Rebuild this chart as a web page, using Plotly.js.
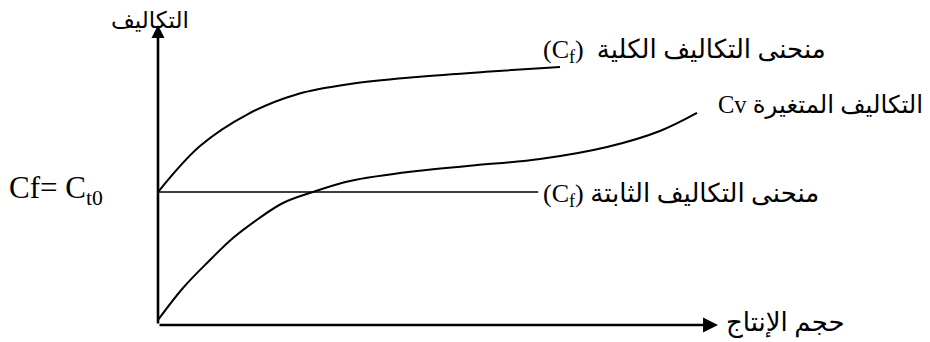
<!DOCTYPE html>
<html>
<head>
<meta charset="utf-8">
<script src="https://cdn.plot.ly/plotly-3.0.1.min.js"></script>
<style>
html,body{margin:0;padding:0;background:#fff;}
#chart{width:930px;height:342px;}
</style>
</head>
<body>
<div id="chart"></div>
<script>
// Production volume (x) and cost (y) read from the schematic, in 0-100 units
const totalX = [0, 7.5, 16.07, 25, 34.29, 46.25, 59.29, 71.79];
const totalY = [44.33, 59.67, 70.33, 77, 80.33, 82.67, 84.5, 86];

const variableX = [0, 4.46, 8.93, 13.39, 17.86, 22.32, 27.68, 34.29, 46.25, 56.25, 68.21, 80.18, 89.64, 96.25];
const variableY = [1.67, 12.33, 21, 29, 35.33, 40.67, 44.33, 48, 51.33, 53.17, 55.33, 59.33, 64.67, 70.67];

const fixedX = [0, 67.9];
const fixedY = [44.33, 44.33];

const yAxisTitle = 'التكاليف';
const xAxisTitle = 'حجم الإنتاج';
const fixedLevelLabel = 'Cf= C<sub>t0</sub>';
const totalLabel = '(C<sub>f</sub>)  منحنى التكاليف الكلية';
const variableLabel = 'Cv التكاليف المتغيرة';
const fixedLabel = '(C<sub>f</sub>) منحنى التكاليف الثابتة';

// pixel -> paper helpers for text placement
const L = 158, R = 718, T = 25, B = 325;
const PX = px => (px - L) / (R - L);
const PY = py => (B - py) / (B - T);

const FONT = 'Liberation Serif, Times New Roman, DejaVu Sans, serif';
const lineStyle = w => ({color: '#000', width: w, shape: 'spline', smoothing: 1});

const traces = [
  {x: totalX, y: totalY, mode: 'lines', line: lineStyle(2), hoverinfo: 'skip', cliponaxis: false},
  {x: variableX, y: variableY, mode: 'lines', line: lineStyle(2), hoverinfo: 'skip', cliponaxis: false},
  {x: fixedX, y: fixedY, mode: 'lines', line: {color: '#000', width: 1.6}, hoverinfo: 'skip', cliponaxis: false}
];

const txt = (px, py, text, size, anchor) => ({
  x: PX(px), y: PY(py), xref: 'paper', yref: 'paper', text: text, showarrow: false,
  xanchor: anchor, yanchor: 'middle', font: {family: FONT, size: size, color: '#000'}
});

const annotations = [
  // axes with arrowheads
  {x: 100, y: 0, ax: 0, ay: 0, xref: 'x', yref: 'y', axref: 'x', ayref: 'y', text: '',
   showarrow: true, arrowhead: 2, arrowsize: 1.15, arrowwidth: 2.6, arrowcolor: '#000', standoff: 0, startstandoff: 0},
  {x: 0, y: 100, ax: 0, ay: 0, xref: 'x', yref: 'y', axref: 'x', ayref: 'y', text: '',
   showarrow: true, arrowhead: 2, arrowsize: 1.0, arrowwidth: 2.6, arrowcolor: '#000', standoff: 0, startstandoff: 0},
  // texts
  txt(150, 21, yAxisTitle, 23, 'center'),
  txt(724, 323, xAxisTitle, 26, 'left'),
  txt(7, 190, fixedLevelLabel, 31, 'left'),
  txt(541, 51, totalLabel, 26, 'left'),
  txt(716, 105, variableLabel, 24.5, 'left'),
  txt(541, 195, fixedLabel, 26, 'left')
];

const layout = {
  width: 930, height: 342,
  margin: {l: L, r: 930 - R, t: T, b: 342 - B, pad: 0},
  paper_bgcolor: '#fff', plot_bgcolor: '#fff',
  showlegend: false,
  xaxis: {range: [0, 100], visible: false, fixedrange: true},
  yaxis: {range: [0, 100], visible: false, fixedrange: true},
  annotations: annotations,
  font: {family: FONT}
};

Plotly.newPlot('chart', traces, layout, {displayModeBar: false, staticPlot: true});
</script>
</body>
</html>
